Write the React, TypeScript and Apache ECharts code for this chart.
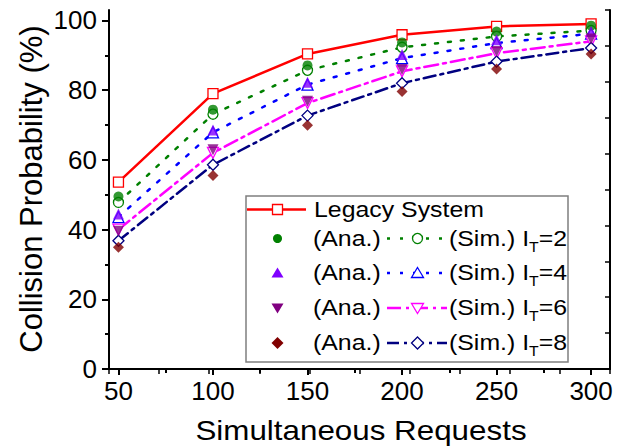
import React, { useEffect, useRef } from 'react';
import * as echarts from 'echarts';

// ---------- data ----------
const requests = [50, 100, 150, 200, 250, 300];
const legacy = [53.6, 79.0, 90.4, 95.9, 98.3, 99.0];
const ana2 = [49.5, 74.4, 87.1, 93.7, 96.8, 98.5];
const sim2 = [47.8, 73.1, 85.7, 92.3, 95.4, 97.1];
const ana4 = [44.5, 68.6, 82.3, 90.2, 94.5, 96.8];
const sim4 = [43.6, 67.9, 81.6, 89.2, 93.5, 96.2];
const ana6 = [39.5, 62.9, 76.8, 85.9, 91.1, 94.7];
const sim6 = [40.0, 62.0, 76.3, 85.4, 90.6, 94.0];
const ana8 = [34.9, 55.5, 69.9, 79.6, 86.1, 90.4];
const sim8 = [36.8, 58.6, 72.7, 82.0, 88.2, 92.1];

const xMajorTicks = [50, 100, 150, 200, 250, 300];
const xMinorTicks = [75, 125, 175, 225, 275];
const yMajorTicks = [0, 20, 40, 60, 80, 100];
const yMinorTicks = [10, 30, 50, 70, 90];
const thresholds = ['2', '4', '6', '8'];

const FONT = '"Liberation Sans", Arial, Helvetica, sans-serif';

const pairs = (ys: number[]) => requests.map((x, i) => [x, ys[i]]);

type Kind = 'circle' | 'rect' | 'tri' | 'triDown' | 'diamond';

const groups = [
  { ana: ana2, sim: sim2, anaColor: '#008000', simColor: '#008000', kind: 'circle' as Kind, dash: [3, 10] },
  { ana: ana4, sim: sim4, anaColor: '#7f00ff', simColor: '#0000ff', kind: 'tri' as Kind, dash: [3, 10] },
  { ana: ana6, sim: sim6, anaColor: '#800080', simColor: '#ff00ff', kind: 'triDown' as Kind, dash: [14, 5, 3, 5] },
  { ana: ana8, sim: sim8, anaColor: '#800000', simColor: '#000080', kind: 'diamond' as Kind, dash: [12, 5, 3, 5] },
];

const symbolOf = (k: Kind) => (k === 'circle' ? 'circle' : k === 'rect' ? 'rect' : k === 'diamond' ? 'diamond' : 'triangle');

function legendMarker(kind: Kind, cx: number, cy: number, filled: boolean, color: string): any {
  const style = {
    fill: filled ? color : '#fff',
    stroke: color,
    lineWidth: filled ? 0 : 1.3,
  };
  if (kind === 'circle') return { type: 'circle', shape: { cx, cy, r: filled ? 4.5 : 5 }, style };
  if (kind === 'rect') return { type: 'rect', shape: { x: cx - 5, y: cy - 5, width: 10, height: 10 }, style };
  if (kind === 'tri')
    return { type: 'polygon', shape: { points: [[cx, cy - 5.5], [cx + 6, cy + 4.5], [cx - 6, cy + 4.5]] }, style };
  if (kind === 'triDown')
    return { type: 'polygon', shape: { points: [[cx, cy + 5.5], [cx + 6, cy - 4.5], [cx - 6, cy - 4.5]] }, style };
  return { type: 'polygon', shape: { points: [[cx, cy - 6], [cx + 6, cy], [cx, cy + 6], [cx - 6, cy]] }, style };
}

function textEl(text: string, x: number, y: number, size: number, scaleX = 1, extra: any = {}): any {
  return {
    type: 'text',
    x,
    y,
    scaleX,
    style: {
      text,
      fontSize: size,
      fontFamily: FONT,
      fill: '#000',
      align: 'left',
      textAlign: 'left',
      verticalAlign: 'middle',
      textVerticalAlign: 'middle',
      ...extra,
    },
  };
}

function buildLegend(): any[] {
  const els: any[] = [];
  const rowsY = [209.5, 238.5, 273, 308, 343];
  els.push({
    type: 'rect',
    shape: { x: 246, y: 196, width: 322, height: 166 },
    style: { fill: '#fff', stroke: '#7f7f7f', lineWidth: 1.5 },
  });
  // Legacy row
  els.push({
    type: 'line',
    shape: { x1: 247, y1: rowsY[0], x2: 306, y2: rowsY[0] },
    style: { stroke: '#ff0000', lineWidth: 2.5 },
  });
  els.push(legendMarker('rect', 277.5, rowsY[0], false, '#ff0000'));
  els.push(textEl('Legacy System', 314, rowsY[0], 22, 1.13));
  groups.forEach((g, i) => {
    const cy = rowsY[i + 1];
    els.push(legendMarker(g.kind, 277.5, cy, true, g.anaColor));
    els.push(textEl('(Ana.)', 313, cy, 22, 1.13));
    els.push({
      type: 'line',
      shape: { x1: 387, y1: cy, x2: 447, y2: cy },
      style: { stroke: g.simColor, lineWidth: 2.5, lineDash: g.dash },
    });
    els.push(legendMarker(g.kind, 417.5, cy, false, g.simColor));
    els.push(
      textEl('{a|(Sim.) I}{b|T}{a|=' + thresholds[i] + '}', 449, cy, 22, 1.13, {
        rich: {
          a: { fontSize: 22, fontFamily: FONT, fill: '#000' },
          b: { fontSize: 14, fontFamily: FONT, fill: '#000', padding: [16, 0, 0, 0] },
        },
      })
    );
  });
  return els;
}

export default function App() {
  const ref = useRef<HTMLDivElement>(null);
  useEffect(() => {
    if (!ref.current) return;
    const chart = echarts.init(ref.current, null, { renderer: 'svg' });
    const axisLine = { show: true, lineStyle: { color: '#000', width: 2 } };
    const series: any[] = [];
    series.push({
      type: 'line',
      name: 'Legacy System',
      data: pairs(legacy),
      symbol: 'rect',
      symbolSize: 10,
      lineStyle: { color: '#ff0000', width: 2.5 },
      itemStyle: { color: '#fff', borderColor: '#ff0000', borderWidth: 1.3 },
      z: 2,
    });
    groups.forEach((g, i) => {
      series.push({
        type: 'line',
        name: 'Sim IT=' + thresholds[i],
        data: pairs(g.sim),
        symbol: symbolOf(g.kind),
        symbolRotate: g.kind === 'triDown' ? 180 : 0,
        symbolSize: g.kind === 'circle' ? 10 : 11,
        lineStyle: { color: g.simColor, width: 2.5, type: g.dash, cap: 'round' },
        itemStyle: { color: '#fff', borderColor: g.simColor, borderWidth: 1.3 },
        z: 3,
      });
    });
    groups.forEach((g, i) => {
      series.push({
        type: 'scatter',
        name: 'Ana IT=' + thresholds[i],
        data: pairs(g.ana),
        symbol: symbolOf(g.kind),
        symbolRotate: g.kind === 'triDown' ? 180 : 0,
        symbolSize: g.kind === 'circle' ? 10 : 11,
        itemStyle: { color: g.anaColor },
        z: 4,
      });
    });

    chart.setOption({
      animation: false,
      backgroundColor: '#fff',
      grid: { left: 109, top: 10, width: 501, height: 359, containLabel: false },
      xAxis: [
        {
          type: 'value',
          min: 45,
          max: 310,
          position: 'bottom',
          axisLine,
          splitLine: { show: false },
          axisTick: { show: true, customValues: xMajorTicks, length: 6, lineStyle: { color: '#000', width: 2 } },
          axisLabel: { customValues: xMajorTicks, fontSize: 26, fontFamily: FONT, color: '#000', margin: 9 },
        },
        {
          type: 'value',
          min: 45,
          max: 310,
          position: 'bottom',
          axisLine: { show: false },
          splitLine: { show: false },
          axisTick: { show: true, customValues: xMinorTicks, length: 4, lineStyle: { color: '#000', width: 2 } },
          axisLabel: { show: false },
        },
        {
          type: 'value',
          min: 0,
          max: 10,
          interval: 1,
          position: 'top',
          axisLine,
          splitLine: { show: false },
          axisTick: { show: true, inside: true, length: 5, lineStyle: { color: '#000', width: 1.5 } },
          axisLabel: { show: false },
        },
      ],
      yAxis: [
        {
          type: 'value',
          min: 0,
          max: 103,
          position: 'left',
          axisLine,
          splitLine: { show: false },
          axisTick: { show: true, customValues: yMajorTicks, length: 7, lineStyle: { color: '#000', width: 2 } },
          axisLabel: { customValues: yMajorTicks, fontSize: 26, fontFamily: FONT, color: '#000', margin: 12 },
        },
        {
          type: 'value',
          min: 0,
          max: 103,
          position: 'left',
          axisLine: { show: false },
          splitLine: { show: false },
          axisTick: { show: true, customValues: yMinorTicks, length: 4, lineStyle: { color: '#000', width: 2 } },
          axisLabel: { show: false },
        },
        {
          type: 'value',
          min: 0,
          max: 10,
          interval: 1,
          position: 'right',
          axisLine,
          splitLine: { show: false },
          axisTick: { show: true, inside: true, length: 5, lineStyle: { color: '#000', width: 1.5 } },
          axisLabel: { show: false },
        },
      ],
      series,
      graphic: [
        {
          type: 'text',
          x: 31,
          y: 189,
          rotation: Math.PI / 2,
          style: {
            text: 'Collision Probability (%)',
            fontSize: 31,
            fontFamily: FONT,
            fill: '#000',
            align: 'center',
            textAlign: 'center',
            verticalAlign: 'middle',
            textVerticalAlign: 'middle',
          },
        },
        {
          type: 'text',
          x: 361,
          y: 430,
          scaleX: 1.12,
          style: {
            text: 'Simultaneous Requests',
            fontSize: 28,
            fontFamily: FONT,
            fill: '#000',
            align: 'center',
            textAlign: 'center',
            verticalAlign: 'middle',
            textVerticalAlign: 'middle',
          },
        },
        { type: 'group', z: 100, children: buildLegend() },
      ],
    });
    return () => chart.dispose();
  }, []);
  return (
    <div
      ref={ref}
      style={{ position: 'fixed', left: 0, top: 0, width: 629, height: 446, background: '#fff' }}
    />
  );
}
